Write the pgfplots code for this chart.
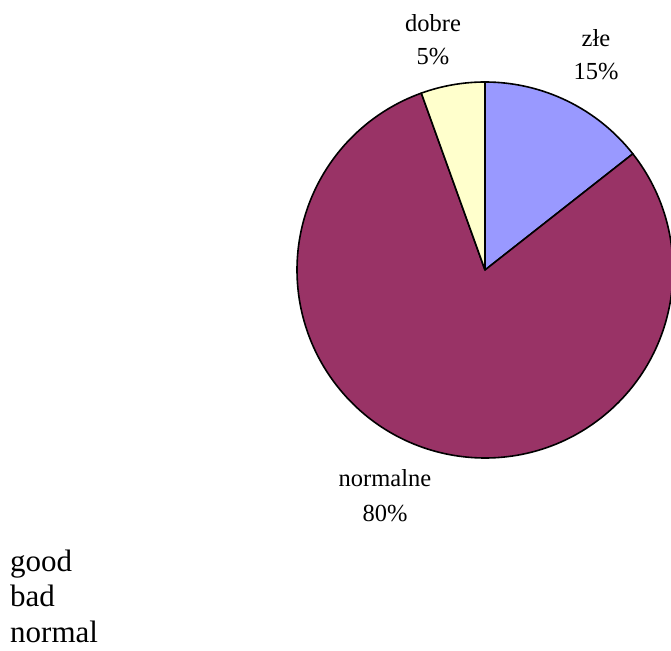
\documentclass[border=0pt]{standalone}
\usepackage{pgfplots}
\usepackage{pgfplotstable}
\pgfplotsset{compat=1.18}
\usepackage{fontspec}
\setmainfont{Liberation Serif}

\definecolor{zle}{HTML}{9999FF}
\definecolor{normalne}{HTML}{993366}
\definecolor{dobre}{HTML}{FFFFCC}

% slices in drawing order, clockwise from 12 o'clock
\pgfplotstableread{
name value
zle 14.4
normalne 80.1
dobre 5.5
}\piedata

\begin{document}
\begin{tikzpicture}
\useasboundingbox (0,0) rectangle (671bp,651bp);
\begin{axis}[
    at={(0,0)}, anchor=south west,
    scale only axis, width=671bp, height=651bp,
    xmin=0, xmax=671, ymin=0, ymax=651,
    hide axis, clip=true,
  ]
\def\angstart{90}
\pgfplotsforeachungrouped \i in {0,1,2} {
  \pgfplotstablegetelem{\i}{value}\of\piedata \let\val\pgfplotsretval
  \pgfplotstablegetelem{\i}{name}\of\piedata \let\nm\pgfplotsretval
  \pgfmathsetmacro{\angend}{\angstart-3.6*\val}
  \edef\temp{\noexpand\filldraw[fill=\nm, draw=black, line width=1.6bp, line join=round]
    (axis cs:485,381) -- ++(\angstart:188bp)
    arc[start angle=\angstart, end angle=\angend, radius=188bp] -- cycle;}
  \temp
  \global\let\angstart\angend
}
\begin{scope}[every node/.style={font=\fontsize{24.5bp}{30bp}\selectfont, anchor=base, inner sep=0pt}]
\node at (axis cs:433,619) {dobre};
\node at (axis cs:433,586) {5\%};
\node at (axis cs:596,604) {złe};
\node at (axis cs:596,571) {15\%};
\node at (axis cs:385,164) {normalne};
\node at (axis cs:385,129) {80\%};
\end{scope}
\begin{scope}[every node/.style={font=\fontsize{31bp}{35bp}\selectfont, anchor=base west, inner sep=0pt}]
\node at (axis cs:10,79) {good};
\node at (axis cs:10,44) {bad};
\node at (axis cs:10,9) {normal};
\end{scope}
\end{axis}
\end{tikzpicture}
\end{document}
